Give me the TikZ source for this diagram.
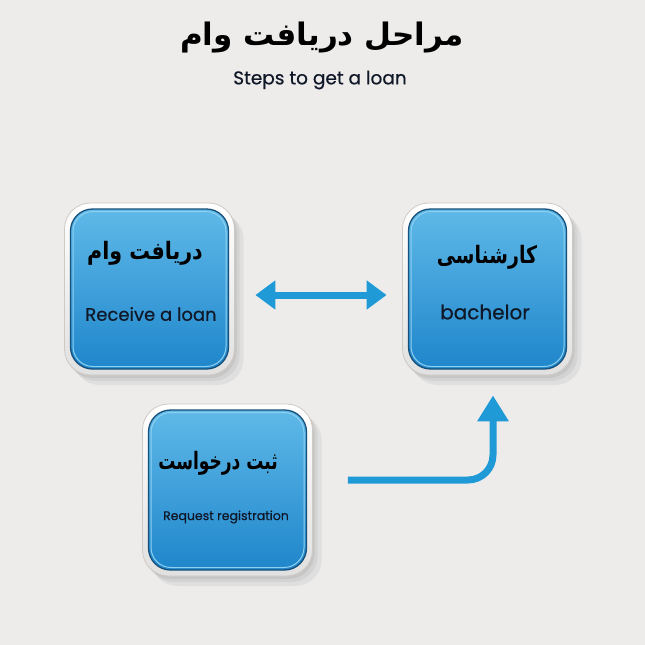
\documentclass[tikz,border=0pt]{standalone}
\usepackage{fontspec}
\setmainfont{Poppins}
\newfontfamily\popm{Poppins}[FakeBold=0.5]
\newfontfamily\fa[Script=Arabic]{DejaVu Sans}
\TeXXeTstate=1
\usetikzlibrary{arrows.meta,calc}
\definecolor{bgc}{HTML}{EDECEB}
\definecolor{arrc}{HTML}{1F9AD6}
\definecolor{blueT}{HTML}{5FB9E8}
\definecolor{blueM}{HTML}{389FDC}
\definecolor{blueB}{HTML}{1F86CB}
\definecolor{blueEdge}{HTML}{17507A}
\definecolor{blueHi}{HTML}{8ED0F0}
\definecolor{rimEdge}{HTML}{CFC9C4}
\definecolor{txt}{HTML}{101828}
\tikzset{
  rim/.style={rounded corners=26pt, minimum width=170pt, minimum height=172pt,
    draw=rimEdge, line width=0.8pt, top color=white, bottom color=black!12,
    preaction={fill=black, opacity=0.05, transform canvas={xshift=9pt,yshift=-10pt}},
    preaction={fill=black, opacity=0.05, transform canvas={xshift=5pt,yshift=-6pt}},
    preaction={fill=black, opacity=0.06, transform canvas={xshift=2pt,yshift=-3pt}}},
  face/.style={rounded corners=22pt, minimum width=158pt, minimum height=160pt,
    draw=blueEdge, line width=1.3pt, top color=blueT, middle color=blueM, bottom color=blueB},
  facehi/.style={rounded corners=20pt, minimum width=153pt, minimum height=155pt,
    draw=blueHi, line width=1pt},
  fatxt/.style={font=\fa\bfseries, text=black},
  entxt/.style={font=\popm, text=txt},
  arr/.style={draw=arrc, line width=7pt}
}
\begin{document}
\begin{tikzpicture}[x=1pt,y=-1pt]
\useasboundingbox (0,0) rectangle (645,645);
\fill[bgc] (0,0) rectangle (645,645);

% title
\node (title) at (322,38) {\fa\bfseries\fontsize{31}{38}\selectfont\beginR مراحل دریافت وام\endR};
\node[entxt] (sub) at (320,80) {\fontsize{18.5}{21}\selectfont Steps to get a loan};

% boxes
\node[rim] (recv) at (149.5,289) {};
\node[face] (recvf) at (recv.center) {};
\node[facehi] (recvh) at (recv.center) {};
\node[rim] (bach) at (487.5,289) {};
\node[face] (bachf) at (bach.center) {};
\node[facehi] (bachh) at (bach.center) {};
\node[rim] (req) at (227.5,490) {};
\node[face] (reqf) at (req.center) {};
\node[facehi] (reqh) at (req.center) {};

% texts
\node[fatxt] (recvfa) at (145,253) {\scalebox{0.86}[1]{\fontsize{24}{30}\selectfont\beginR دریافت وام\endR}};
\node[entxt] (recven) at (151,314) {\fontsize{18}{21}\selectfont Receive a loan};
\node[fatxt] (bachfa) at (487,257) {\scalebox{0.79}[1]{\fontsize{24}{30}\selectfont\beginR کارشناسی\endR}};
\node[entxt] (bachen) at (485,312) {\fontsize{20}{23}\selectfont bachelor};
\node[fatxt] (reqfa) at (218,463) {\scalebox{0.71}[1]{\fontsize{24}{30}\selectfont\beginR ثبت درخواست\endR}};
\node[entxt] (reqen) at (226,517) {\fontsize{12.5}{15}\selectfont Request registration};

% arrows
\draw[arr, {Triangle[length=20pt,width=28pt]}-{Triangle[length=20pt,width=28pt]},
  shorten <=20.5pt, shorten >=15.5pt]
  ($(recv.east)+(0,6)$) -- ($(bach.west)+(0,6)$);
\draw[arr, -{Triangle[length=26pt,width=30pt]}, rounded corners=25pt]
  ($(req.east)+(35,-10)$) -| ($(bach.south)+(5.5,20)$);
\end{tikzpicture}
\end{document}
